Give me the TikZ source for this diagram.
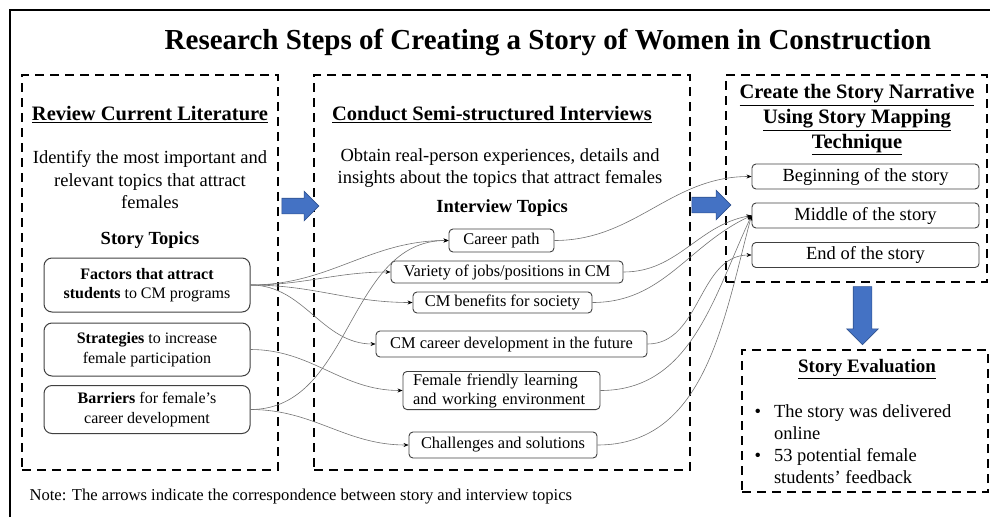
\documentclass[tikz,border=0pt]{standalone}
\usepackage{fontspec}
\setmainfont{Liberation Serif}
\usetikzlibrary{arrows.meta, positioning, shapes.arrows}
\definecolor{stepblue}{RGB}{68, 114, 196}
\definecolor{stepedge}{RGB}{47, 82, 143}
\definecolor{boxline}{RGB}{64, 64, 64}
\definecolor{linkgray}{RGB}{115, 115, 115}

\begin{document}
\begin{tikzpicture}[x=1pt, y=-1pt,
  panel/.style={draw, line width=2.4pt, dash pattern=on 9pt off 6pt},
  header/.style={font=\fontsize{20.5}{25}\selectfont\bfseries, align=center},
  body/.style={font=\fontsize{18.5}{22.5}\selectfont, align=center},
  storybox/.style={draw=boxline, line width=1pt, rounded corners=8pt, minimum width=206pt, font=\fontsize{16}{19.5}\selectfont, align=center, inner sep=2pt},
  topicbox/.style={draw=boxline, line width=0.9pt, rounded corners=4pt, font=\fontsize{16.4}{19}\selectfont, inner sep=2pt},
  partbox/.style={draw=boxline, line width=0.9pt, rounded corners=4pt, minimum width=227pt, minimum height=25pt, font=\fontsize{18.5}{22}\selectfont, inner sep=1pt},
  link/.style={draw=linkgray, line width=0.6pt, -{Stealth[length=5pt, width=4pt, color=black]}},
  bigarrow/.style={single arrow, fill=stepblue, draw=stepedge, line width=0.6pt, inner xsep=0pt, inner ysep=7.5pt, single arrow head extend=7pt}
]
  \useasboundingbox (0, 0) rectangle (990, 517);

  % Frame and title
  \draw[line width=2pt] (10, 517) -- (10, 10) -- (990, 10);
  \node[font=\fontsize{29}{33}\selectfont\bfseries] (title) at (548, 42) {Research Steps of Creating a Story of Women in Construction};

  % The four steps
  \node[panel, minimum width=256pt, minimum height=395pt] (lit) at (150, 272.5) {};
  \node[panel, minimum width=376pt, minimum height=395pt] (intv) at (502, 272.5) {};
  \node[panel, minimum width=261pt, minimum height=207pt] (narr) at (856.5, 178.5) {};
  \node[panel, minimum width=246pt, minimum height=142pt] (eval) at (865, 421) {};

  % Step 1: literature
  \node[header] (lithead) at (150, 115) {\underline{Review Current Literature}};
  \node[body] (litdesc) at (150, 180) {Identify the most important and\\relevant topics that attract\\females};
  \node[body, font=\fontsize{18.5}{22.5}\selectfont\bfseries] (storyhead) at (150, 240) {Story Topics};
  \node[storybox, minimum height=54pt] (fac) at (147, 285) {\textbf{Factors that attract}\\\textbf{students} to CM programs};
  \node[storybox, minimum height=53pt] (strat) at (147, 349.5) {\textbf{Strategies} to increase\\female participation};
  \node[storybox, minimum height=48pt] (barr) at (147, 409.5) {\textbf{Barriers} for female's\\career development};

  % Step 2: interviews
  \node[header] (intvhead) at (492, 115) {\underline{Conduct Semi-structured Interviews}};
  \node[body] (intvdesc) at (500, 168) {Obtain real-person experiences, details and\\insights about the topics that attract females};
  \node[body, font=\fontsize{18.5}{22.5}\selectfont\bfseries] (topichead) at (502, 208) {Interview Topics};
  \node[topicbox, minimum width=105pt, minimum height=23pt] (car) at (501.5, 240.5) {Career path};
  \node[topicbox, minimum width=232pt, minimum height=22pt] (var) at (507, 272) {Variety of jobs/positions in CM};
  \node[topicbox, minimum width=179pt, minimum height=21pt] (ben) at (502.5, 302.5) {CM benefits for society};
  \node[topicbox, minimum width=271pt, minimum height=26pt] (dev) at (511.5, 344) {CM career development in the future};
  \node[topicbox, text width=177pt, inner xsep=10pt, align=left, minimum height=37pt] (fem) at (501.5, 390.5) {Female friendly learning\\and working environment};
  \node[topicbox, minimum width=188pt, minimum height=26pt] (chal) at (503, 445) {Challenges and solutions};

  % Step 3: story narrative
  \node[header] (narrhead) at (857, 120) {\underline{Create the Story Narrative}\\\underline{Using Story Mapping}\\\underline{Technique}};
  \node[partbox] (beg) at (865.5, 176.5) {Beginning of the story};
  \node[partbox] (mid) at (865.5, 215.5) {Middle of the story};
  \node[partbox] (end) at (865.5, 255) {End of the story};

  % Step 4: evaluation
  \node[header, font=\fontsize{19}{23}\selectfont\bfseries] (evalhead) at (867, 369) {\underline{Story Evaluation}};
  \node[anchor=west, font=\fontsize{18.5}{22.3}\selectfont] (evaltext) at (751, 446) {%
    \begin{tabular}{@{}l@{\hspace{13pt}}l@{}}
      \textbullet & The story was delivered\\
                  & online\\
      \textbullet & 53 potential female\\
                  & students’ feedback
    \end{tabular}};

  % Block arrows between steps
  \node[bigarrow, minimum height=37pt] (arrA) at (296.5, 206) {};
  \node[bigarrow, minimum height=39pt] (arrB) at (707.5, 205) {};
  \node[bigarrow, minimum height=58pt, inner ysep=9pt, single arrow head extend=6.5pt, rotate=-90] (arrC) at (862.5, 311) {};

  % Story topics -> interview topics
  \draw[link] (fac.east) to[out=0, in=180] (car.west);
  \draw[link] (fac.east) to[out=0, in=180] (var.west);
  \draw[link] (fac.east) to[out=0, in=180] (ben.west);
  \draw[link] (fac.east) to[out=0, in=180] (dev.west);
  \draw[link] (strat.east) to[out=0, in=180] (fem.west);
  \draw[link] (barr.east) to[out=0, in=180] (car.west);
  \draw[link] (barr.east) to[out=0, in=180] (chal.west);

  % Interview topics -> story parts
  \draw[link] (car.east) to[out=0, in=180] (beg.west);
  \draw[link] (var.east) to[out=0, in=190] (mid.west);
  \draw[link] (ben.east) to[out=0, in=205] (mid.west);
  \draw[link] (dev.east) to[out=0, in=180] (end.west);
  \draw[link] (fem.east) to[out=0, in=245] (mid.west);
  \draw[link] (chal.east) to[out=0, in=255] (mid.west);

  % Note
  \node[anchor=west, font=\fontsize{16.6}{19}\selectfont] (note) at (26, 497) {Note: The arrows indicate the correspondence between story and interview topics};
\end{tikzpicture}
\end{document}
